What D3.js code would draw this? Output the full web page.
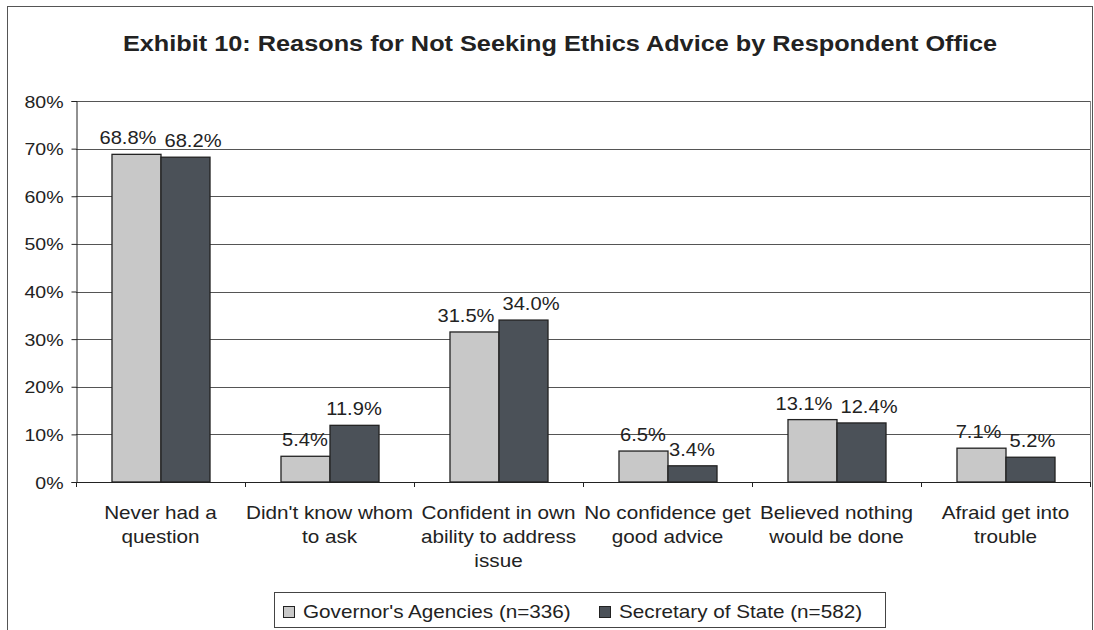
<!DOCTYPE html>
<html>
<head>
<meta charset="utf-8">
<script src="https://cdn.jsdelivr.net/npm/d3@7"></script>
<style>
  html, body { margin: 0; padding: 0; background: #fff; }
  svg { display: block; font-family: "Liberation Sans", Arial, sans-serif; }
</style>
</head>
<body>
<svg id="chart" width="1094" height="630"></svg>
<script>
// Survey results: share of respondents citing each reason
const categories = [
  ["Never had a", "question"],
  ["Didn't know whom", "to ask"],
  ["Confident in own", "ability to address", "issue"],
  ["No confidence get", "good advice"],
  ["Believed nothing", "would be done"],
  ["Afraid get into", "trouble"]
];
const governorAgencies = [68.8, 5.4, 31.5, 6.5, 13.1, 7.1];
const secretaryOfState = [68.2, 11.9, 34.0, 3.4, 12.4, 5.2];
const seriesNames = ["Governor's Agencies (n=336)", "Secretary of State (n=582)"];
const yTicks = [0, 10, 20, 30, 40, 50, 60, 70, 80];
const titleText = "Exhibit 10: Reasons for Not Seeking Ethics Advice by Respondent Office";

const colors = ["#c8c8c8", "#4b5158"];
const series = [governorAgencies, secretaryOfState];
const ink = "#222";
const SX = 1.15; // horizontal stretch applied to all text

const svg = d3.select("#chart");
const plot = { left: 76, right: 1090, top: 101, bottom: 482 };

// Places a horizontally stretched text at (x, y)
function stretchedText(parent, x, y, size, anchor) {
  return parent.append("text")
    .attr("transform", `translate(${x},${y}) scale(${SX},1)`)
    .attr("text-anchor", anchor || "start")
    .attr("font-size", size)
    .attr("fill", ink);
}

// Outer frame
svg.append("rect")
  .attr("x", 7.5).attr("y", 6.5).attr("width", 1085).attr("height", 640)
  .attr("fill", "none").attr("stroke", "#555").attr("stroke-width", 1);

// Title
stretchedText(svg, 560, 51, 22, "middle")
  .attr("font-weight", "bold")
  .text(titleText);

const x0 = d3.scaleBand()
  .domain(d3.range(categories.length))
  .range([plot.left, plot.right])
  .paddingInner(0.42).paddingOuter(0.21);

const x1 = d3.scaleBand()
  .domain([0, 1])
  .range([0, x0.bandwidth()]);

const y = d3.scaleLinear().domain([0, 80]).range([plot.bottom, plot.top]);

// Gridlines
svg.append("g").selectAll("line")
  .data(yTicks.filter(t => t > 0))
  .join("line")
  .attr("x1", plot.left).attr("x2", plot.right)
  .attr("y1", d => Math.round(y(d)) + 0.5).attr("y2", d => Math.round(y(d)) + 0.5)
  .attr("stroke", "#555").attr("stroke-width", 1);

// Right border of plot area
svg.append("line")
  .attr("x1", plot.right + 0.5).attr("x2", plot.right + 0.5)
  .attr("y1", plot.top).attr("y2", plot.bottom)
  .attr("stroke", "#888");

// Bars
const barData = [];
categories.forEach((c, i) => series.forEach((s, k) => barData.push({ i, k, v: s[i] })));

svg.append("g").selectAll("rect")
  .data(barData)
  .join("rect")
  .attr("x", d => x0(d.i) + x1(d.k) + 0.5)
  .attr("y", d => y(d.v))
  .attr("width", x1.bandwidth())
  .attr("height", d => y(0) - y(d.v))
  .attr("fill", d => colors[d.k])
  .attr("stroke", ink).attr("stroke-width", 1.3);

// Value labels, nudged apart where neighbours in a group collide
const labelLayer = svg.append("g");
const labels = barData.map(d => {
  const cx = x0(d.i) + x1(d.k) + x1.bandwidth() / 2;
  const by = y(d.v) - 10;
  const t = stretchedText(labelLayer, cx, by, 17.5, "middle").text(d.v.toFixed(1) + "%");
  const w = t.node().getComputedTextLength() * SX;
  return { d, t, cx, by, w };
});
categories.forEach((c, i) => {
  const [a, b] = labels.filter(l => l.d.i === i);
  const vOverlap = Math.abs(a.by - b.by) < 14;
  const need = (a.w + b.w) / 2 + 8;
  const have = b.cx - a.cx;
  if (vOverlap && have < need) {
    const shift = (need - have) / 2;
    a.cx -= shift; b.cx += shift;
  }
  [a, b].forEach(l => l.t.attr("transform", `translate(${l.cx},${l.by}) scale(${SX},1)`));
});

// Y axis
const yAxis = d3.axisLeft(y)
  .tickValues(yTicks)
  .tickFormat(d => d + "%")
  .tickSizeOuter(0)
  .tickSize(5);

const ya = svg.append("g")
  .attr("transform", `translate(${plot.left + 0.5},0)`)
  .call(yAxis);
ya.select(".domain").attr("stroke", ink);
ya.selectAll(".tick line").attr("stroke", ink);
ya.selectAll(".tick text").remove();
ya.selectAll(".tick").each(function (d) {
  stretchedText(d3.select(this), -13, 6, 17, "end").text(d + "%");
});

// X axis baseline and category ticks
const xa = svg.append("g");
xa.append("line")
  .attr("x1", plot.left).attr("x2", plot.right)
  .attr("y1", plot.bottom + 0.5).attr("y2", plot.bottom + 0.5)
  .attr("stroke", ink);
xa.selectAll("line.tk")
  .data(d3.range(categories.length + 1))
  .join("line").attr("class", "tk")
  .attr("x1", i => plot.left + i * x0.step() + 0.5)
  .attr("x2", i => plot.left + i * x0.step() + 0.5)
  .attr("y1", plot.bottom).attr("y2", plot.bottom + 5)
  .attr("stroke", ink);

// Category labels
categories.forEach((lines, i) => {
  const t = stretchedText(xa, x0(i) + x0.bandwidth() / 2, 519, 18, "middle");
  t.selectAll("tspan")
    .data(lines)
    .join("tspan")
    .attr("x", 0)
    .attr("dy", (d, j) => j === 0 ? 0 : 24)
    .text(d => d);
});

// Legend
const legend = svg.append("g");
legend.append("rect")
  .attr("x", 274.5).attr("y", 592.5).attr("width", 611).attr("height", 35)
  .attr("fill", "#fff").attr("stroke", "#444");
const legendX = [283, 599];
seriesNames.forEach((name, k) => {
  legend.append("rect")
    .attr("x", legendX[k] + 0.5).attr("y", 606.5).attr("width", 11).attr("height", 11)
    .attr("fill", colors[k]).attr("stroke", ink);
  stretchedText(legend, legendX[k] + 20, 618, 18, "start").text(name);
});
</script>
</body>
</html>
